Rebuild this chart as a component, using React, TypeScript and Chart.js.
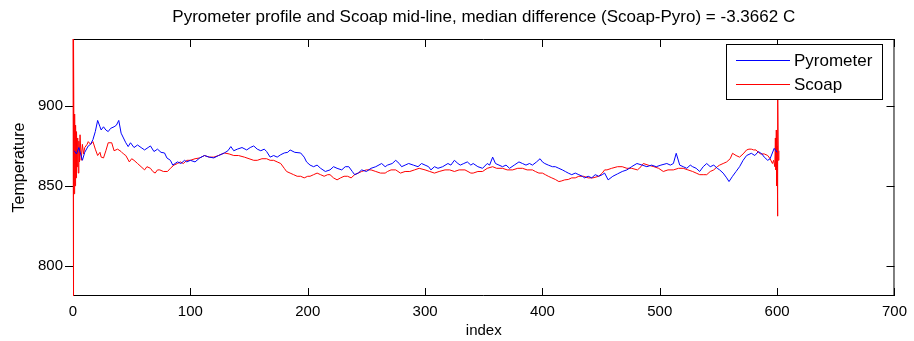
import React, { useEffect, useRef } from "react";
import { Chart, registerables } from "chart.js";

Chart.register(...registerables);

const titleText =
  "Pyrometer profile and Scoap mid-line, median difference (Scoap-Pyro) = -3.3662 C";
const xAxisLabel = "index";
const yAxisLabel = "Temperature";
const seriesNames = ["Pyrometer", "Scoap"];
const xTicks = [0, 100, 200, 300, 400, 500, 600, 700];
const yTicks = [800, 850, 900];
const xRange = [0, 700];
const yRange = [781, 942];

const pyroIndex = [
  1, 3, 5, 8, 10, 13, 15, 17, 19, 21, 23, 24, 26, 28, 30, 32, 35, 37, 39, 41, 43, 45, 47, 49, 52, 55, 58,
  61, 64, 66, 69, 72, 75, 78, 80, 83, 85, 87, 89, 92, 95, 97, 100, 104, 108, 112, 116, 120, 124, 129, 132,
  134.5, 137, 140, 144, 148, 151, 154, 157, 160, 163, 165, 168, 171, 174, 177, 180, 183, 185, 189, 194,
  197, 199, 202, 205, 208, 211, 215, 219, 222, 225, 229, 232, 235, 238, 240, 243, 246, 250, 254, 258, 263,
  266, 268, 272, 275, 278, 280, 283, 286, 290, 294, 297, 300, 303, 305, 308, 311, 315, 319.5, 322, 325,
  328, 330, 333, 336, 339, 341, 345, 349, 353, 355, 357.6, 360, 363, 366, 369, 372, 376, 380, 383, 386,
  389, 391.5, 395, 398, 400, 402, 405, 408.5, 411, 414, 417, 419.5, 422, 425, 428, 431, 434, 436, 439,
  442, 445, 448, 451, 453, 456, 460, 464, 468, 472, 476, 480.5, 485, 489, 493, 497, 501, 506, 509, 511.6,
  514, 517, 520, 523, 526, 528, 531, 534, 537, 540, 543, 546, 549, 551, 554, 557, 559, 562, 565, 568, 571,
  574, 578, 581, 584, 587, 589, 592, 594, 597.5, 600,
];
const pyroTemp = [
  872, 870, 874, 866, 871, 875, 876, 879, 884, 891, 887, 885, 887, 885, 884, 886, 887, 888, 891, 883, 880,
  877, 874.6, 877, 874, 875.6, 874, 872.5, 874, 875, 871.5, 873, 871, 870.6, 867.5, 866, 863, 864, 865,
  864, 866, 865, 866, 865, 867.5, 869, 868, 867.5, 869, 870.6, 872, 874.6, 872, 873, 874, 872.5, 874, 875,
  873, 872, 873, 871.5, 868, 869, 868, 869.5, 870.6, 871, 872.5, 871, 870.6, 868, 865, 863, 862, 863, 861,
  859, 860, 862, 861, 860, 862, 862, 859, 857, 858, 860, 859, 861, 862, 864, 862, 863, 864, 866, 864, 862,
  863, 864, 863, 862, 864, 863, 862, 860, 862, 861, 862, 864, 863, 866, 864, 863, 864, 865, 863, 864, 862,
  861, 864, 863, 868, 864, 863, 862, 863, 861, 863, 865, 864, 863, 864, 863, 865, 867, 865, 864, 863, 862,
  862, 861, 860, 859, 858, 857, 858, 857, 856, 855, 856, 855, 857, 856, 857, 858, 853.75, 856, 857.5, 859,
  860, 862, 864, 863, 862, 863, 862, 863, 864, 863, 864, 870.4, 863, 862, 861, 863, 862, 861, 859, 862,
  864, 862, 863, 861, 860, 858, 855, 852.7, 856, 859, 862, 866, 869, 870.4, 869, 871.5, 870, 868, 866, 867,
  873.5, 871,
];

const scoapIndex = [
  0, 0.3, 0.6, 1, 1.4, 1.8, 2.2, 2.6, 3, 3.5, 4, 4.5, 5, 5.5, 6, 7, 8, 9, 10, 12, 13, 15, 17, 19, 21, 23,
  24, 26, 28, 30, 33, 35, 38, 41, 43, 45, 48, 50, 52, 55, 58, 61, 63, 66, 68, 70, 72, 74, 77, 80.5, 83, 86,
  89, 91.5, 94, 97, 100, 104, 108, 112, 116, 120, 124, 129, 133, 137, 141, 146, 150, 154, 157, 161, 165,
  168, 171, 174, 177, 180, 182, 185, 188, 191, 194, 197, 200, 202, 205, 208, 211, 214, 217, 219, 222, 225,
  228, 231, 234, 237, 240, 243, 246, 250, 254, 258, 262, 266, 268, 271, 275, 279, 283, 287, 291, 295, 300,
  304, 308, 312, 317, 321, 325, 329, 334, 339, 341, 345, 349, 353, 357.6, 361, 366, 370, 374.6, 379, 383,
  387, 391.5, 394, 397, 400, 402.5, 405, 408, 411, 414, 416, 419, 422, 425, 428, 431, 435, 439, 443, 448,
  451, 453, 455, 459, 464, 468, 472, 476, 481, 484, 486, 490, 495, 499, 503, 507, 511.6, 516, 520, 524,
  528, 531, 534, 537, 540, 543, 546, 549, 551, 554, 557, 560, 562, 565, 568, 571, 574, 576, 578, 580, 582,
  584, 586, 589, 592, 594, 596, 597, 598, 598.5, 599, 599.3, 599.6, 600, 600.3, 600.6, 601, 601.5,
];
const scoapTemp = [
  942, 781, 940, 845, 895, 850, 888, 855, 884, 862, 880, 858, 878, 865, 882, 866, 876, 870, 874, 876,
  877.7, 876, 877.7, 873, 869, 871, 868, 867.5, 872, 877, 877, 872, 873, 871.5, 870, 869, 865, 867, 866,
  864, 862, 860, 862, 861, 859, 858, 860, 860, 859, 859, 861, 863, 864, 865, 864, 866, 866, 867, 867.5,
  869, 868, 868, 869, 870.6, 870, 869, 869, 868, 867, 866, 866, 867, 867, 866, 866, 865, 864, 861, 859,
  858, 857, 856, 856, 855, 856, 856, 857, 858, 857, 856, 857, 857, 855, 853.75, 855, 856, 856, 855, 857,
  858, 859, 860, 860, 859, 858, 858, 859, 860, 860, 858, 859, 859, 860, 861, 860, 859, 858, 859, 860, 860,
  859, 860, 860, 858, 858, 859, 859, 861, 862, 861, 861, 860, 860, 861, 861, 860, 860, 859, 858, 858, 857,
  856, 855, 854, 852.7, 853, 853.75, 854, 855, 855, 856, 856, 855, 855, 856, 858, 860, 860, 861, 862, 862,
  861, 861, 860, 862, 864, 863, 862, 861, 859, 860, 860, 861, 861, 860, 859, 858, 857, 857, 857, 859, 860,
  862, 863, 864, 865, 867, 870.4, 869, 868, 870, 872.5, 873, 873, 872.5, 872.5, 871, 870, 870, 869, 867,
  864, 866, 862, 880, 860, 885, 850, 875, 831, 915, 866, 872,
];

const FONT = "'Liberation Sans', Arial, Helvetica, sans-serif";

const matlabPlugin = {
  id: "matlabFrame",
  beforeDatasetsDraw(chart: any) {
    const { ctx, chartArea } = chart;
    const { left, right, top, bottom } = chartArea;
    const xs = chart.scales.x;
    const ys = chart.scales.y;
    ctx.save();
    ctx.strokeStyle = "#000";
    ctx.lineWidth = 1;
    ctx.beginPath();
    ctx.rect(left + 0.5, top + 0.5, right - left - 1, bottom - top - 1);
    ctx.stroke();
    ctx.beginPath();
    for (const v of xTicks) {
      const px = Math.round(xs.getPixelForValue(v)) + 0.5;
      ctx.moveTo(px, bottom);
      ctx.lineTo(px, bottom - 8);
      ctx.moveTo(px, top);
      ctx.lineTo(px, top + 8);
    }
    for (const v of yTicks) {
      const py = Math.round(ys.getPixelForValue(v)) + 0.5;
      ctx.moveTo(left, py);
      ctx.lineTo(left - 8, py);
      ctx.moveTo(right, py);
      ctx.lineTo(right - 8, py);
    }
    ctx.stroke();
    ctx.restore();
  },
  afterDatasetsDraw(chart: any) {
    const { ctx, chartArea } = chart;
    ctx.save();
    // legend
    const lx = 726, ly = 44, lw = 156, lh = 55;
    ctx.fillStyle = "#fff";
    ctx.fillRect(lx, ly, lw, lh);
    ctx.strokeStyle = "#000";
    ctx.lineWidth = 1;
    ctx.strokeRect(lx + 0.5, ly + 0.5, lw, lh);
    const colors = ["#0000ff", "#ff0000"];
    const rows = [60, 84];
    ctx.font = `17px ${FONT}`;
    ctx.textBaseline = "middle";
    ctx.textAlign = "left";
    seriesNames.forEach((name, i) => {
      ctx.strokeStyle = colors[i];
      ctx.beginPath();
      ctx.moveTo(736, rows[i] + 0.5);
      ctx.lineTo(790, rows[i] + 0.5);
      ctx.stroke();
      ctx.fillStyle = "#000";
      ctx.fillText(name, 794, rows[i] + 1);
    });
    // title and axis labels
    const cx = (chartArea.left + chartArea.right) / 2;
    ctx.fillStyle = "#000";
    ctx.textAlign = "center";
    ctx.font = `17px ${FONT}`;
    ctx.fillText(titleText, cx, 17);
    ctx.font = `15px ${FONT}`;
    ctx.fillText(xAxisLabel, cx, 331);
    ctx.translate(20, (chartArea.top + chartArea.bottom) / 2);
    ctx.rotate(-Math.PI / 2);
    ctx.font = `16px ${FONT}`;
    ctx.fillText(yAxisLabel, 0, 0);
    ctx.restore();
  },
};

export default function App() {
  const ref = useRef<HTMLCanvasElement | null>(null);
  useEffect(() => {
    if (!ref.current) return;
    const chart = new Chart(ref.current, {
      type: "line",
      data: {
        datasets: [
          {
            label: seriesNames[0],
            data: pyroIndex.map((x, i) => ({ x, y: pyroTemp[i] })),
            borderColor: "#0000ff",
            borderWidth: 1,
            pointRadius: 0,
            tension: 0,
            fill: false,
            clip: 1,
          },
          {
            label: seriesNames[1],
            data: scoapIndex.map((x, i) => ({ x, y: scoapTemp[i] })),
            borderColor: "#ff0000",
            borderWidth: 1,
            pointRadius: 0,
            tension: 0,
            fill: false,
            clip: 1,
          },
        ],
      },
      options: {
        animation: false,
        responsive: false,
        layout: { padding: { left: 0, right: 15, top: 39, bottom: 0 } },
        plugins: { legend: { display: false }, title: { display: false }, tooltip: { enabled: false } },
        scales: {
          x: {
            type: "linear",
            min: xRange[0],
            max: xRange[1],
            grid: { display: false, drawTicks: false },
            border: { display: false },
            afterBuildTicks: (s: any) => {
              s.ticks = xTicks.map((v) => ({ value: v }));
            },
            afterFit: (s: any) => {
              s.height = 45;
            },
            ticks: { color: "#000", padding: 7, maxRotation: 0, autoSkip: false, font: { family: FONT, size: 15 } },
          },
          y: {
            type: "linear",
            min: yRange[0],
            max: yRange[1],
            grid: { display: false, drawTicks: false },
            border: { display: false },
            afterBuildTicks: (s: any) => {
              s.ticks = yTicks.map((v) => ({ value: v }));
            },
            afterFit: (s: any) => {
              s.width = 73;
            },
            ticks: { color: "#000", padding: 10, font: { family: FONT, size: 15 } },
          },
        },
      },
      plugins: [matlabPlugin],
    } as any);
    return () => chart.destroy();
  }, []);
  return (
    <div style={{ position: "fixed", left: 0, top: 0, width: 914, height: 341, background: "#fff" }}>
      <canvas ref={ref} width={914} height={341} />
    </div>
  );
}
